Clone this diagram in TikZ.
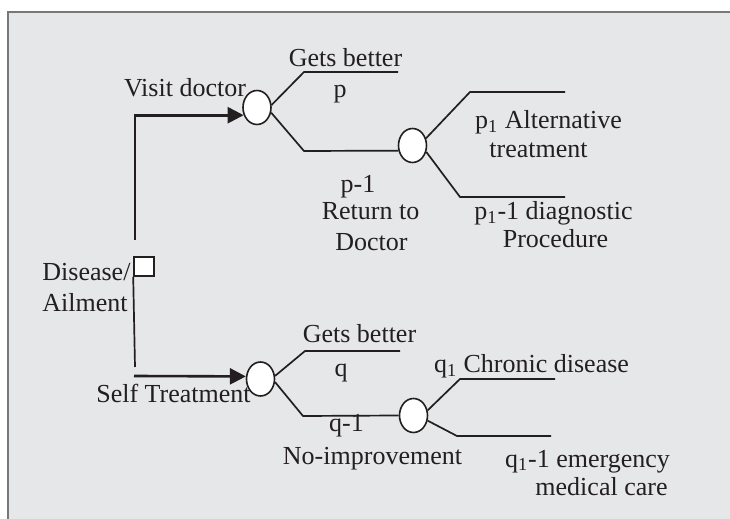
\documentclass[tikz,border=0pt]{standalone}
\usepackage{fontspec}
\setmainfont{Liberation Serif}
\usetikzlibrary{shapes,arrows.meta,positioning}
\definecolor{panel}{RGB}{230,231,233}
\definecolor{frame}{RGB}{120,120,120}
\definecolor{ink}{RGB}{35,31,32}
\tikzset{
    x=0.5pt, y=-0.5pt,
    chance/.style ={ellipse, draw, fill=white, line width=0.8pt, minimum width=14pt, minimum height=17pt, inner sep=0pt},
    decision/.style={rectangle, draw, fill=white, line width=0.8pt, minimum width=10pt, minimum height=9.5pt, inner sep=0pt},
    branch/.style={line width=0.85pt},
    choice/.style={line width=1.3pt, -{Triangle[length=8pt, width=8pt]}},
    lbl/.style={inner sep=0pt, anchor=base, font=\fontsize{13}{15}\selectfont}
}

\begin{document}
\begin{tikzpicture}[color=ink]
    \useasboundingbox (0,0) rectangle (730,519);
    \fill[panel] (8,12) rectangle (730,519);
    \draw[frame, line width=0.7pt] (8,519) -- (8,12) -- (730,12);

    % decision and chance nodes
    \node[decision] (dm) at (144,266.5) {};
    \node[chance] (vd) at (257,107.5) {};
    \node[chance] (rd) at (412.5,145.5) {};
    \node[chance] (st) at (260.5,379) {};
    \node[chance] (ni) at (413.5,415.5) {};

    % bends and free ends
    \coordinate (dtop) at (135,240);
    \coordinate (dbot) at (135,367);
    \coordinate (sstart) at (134,376);
    \coordinate (vbA) at (304,72);   \coordinate (gbA) at (398,72);
    \coordinate (vbB) at (304,151);
    \coordinate (rbA) at (470,92);   \coordinate (altA) at (565,92);
    \coordinate (rbB) at (460,197);  \coordinate (diaA) at (565,197);
    \coordinate (sbA) at (305,351);  \coordinate (gbB) at (400,351);
    \coordinate (sbB) at (303,416);
    \coordinate (nbA) at (460,379);  \coordinate (chA) at (555,379);
    \coordinate (nbB) at (457,436);  \coordinate (emA) at (551,436);

    % choices
    \draw[choice] (dtop) |- (vd.210);
    \draw[branch] (dm.south west) -- (dbot);
    \draw[choice] (sstart) -- (st.170);

    % branches
    \draw[branch] (vd.10) -- (vbA) -- (gbA);
    \draw[branch] (vd.-20) -- (vbB) -- (rd.200);
    \draw[branch] (rd.28) -- (rbA) -- (altA);
    \draw[branch] (rd.-25) -- (rbB) -- (diaA);
    \draw[branch] (st.12) -- (sbA) -- (gbB);
    \draw[branch] (st.-12) -- (sbB) -- (ni.west);
    \draw[branch] (ni.20) -- (nbA) -- (chA);
    \draw[branch] (ni.-20) -- (nbB) -- (emA);

    % labels
    \node[lbl] (vdl) at (185,97) {Visit doctor};
    \node[lbl] (gbl) at (345.5,67) {Gets better};
    \node[lbl] (pl) at (340,98) {p};
    \node[lbl] (pml) at (358,193) {p-1};
    \node[lbl] (rtl) at (370.5,220) {Return to};
    \node[lbl] (dcl) at (371.5,251) {Doctor};
    \node[lbl] (atl) at (548.5,129) {p\textsubscript{1} Alternative};
    \node[lbl] (trl) at (538.5,158) {treatment};
    \node[lbl] (dgl) at (553.5,220) {p\textsubscript{1}-1 diagnostic};
    \node[lbl] (prl) at (555.5,248) {Procedure};
    \node[lbl, anchor=base west] (dsl) at (42,281) {Disease/};
    \node[lbl, anchor=base west] (ail) at (42,312) {Ailment};
    \node[lbl] (stl) at (173.5,403) {Self Treatment};
    \node[lbl] (gql) at (359.5,343) {Gets better};
    \node[lbl] (ql) at (341,377) {q};
    \node[lbl] (qml) at (346.5,432) {q-1};
    \node[lbl] (nil) at (372.5,465) {No-improvement};
    \node[lbl] (chl) at (531.5,373) {q\textsubscript{1} Chronic disease};
    \node[lbl] (eml) at (587.5,467) {q\textsubscript{1}-1 emergency};
    \node[lbl] (mcl) at (601.5,495) {medical care};
\end{tikzpicture}
\end{document}
